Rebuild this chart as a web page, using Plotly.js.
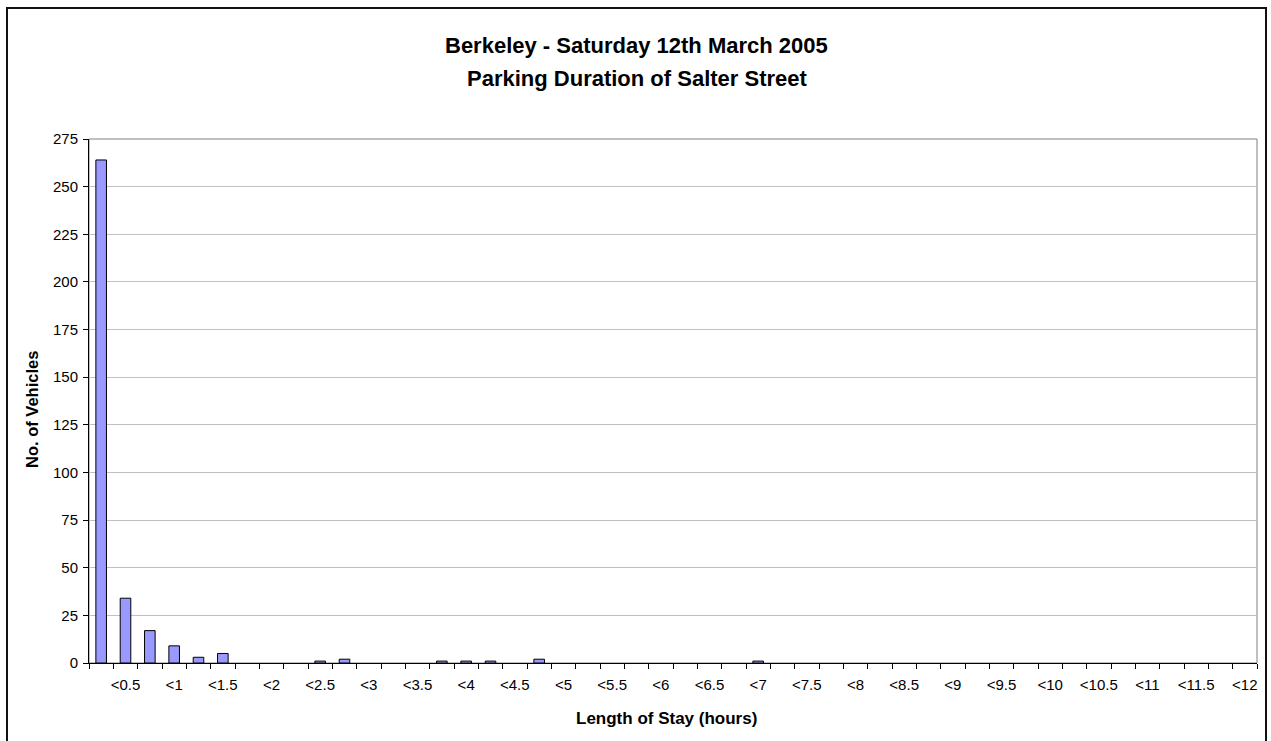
<!DOCTYPE html>
<html>
<head>
<meta charset="utf-8">
<script src="https://cdn.plot.ly/plotly-3.0.1.min.js"></script>
<style>
html,body{margin:0;padding:0;background:#fff;}
#chart{width:1271px;height:741px;}
</style>
</head>
<body>
<div id="chart"></div>
<script>
// Categories: length of stay in quarter-hour bins
const categories = ["<0.25","<0.5","<0.75","<1","<1.25","<1.5","<1.75","<2",
  "<2.25","<2.5","<2.75","<3","<3.25","<3.5","<3.75","<4",
  "<4.25","<4.5","<4.75","<5","<5.25","<5.5","<5.75","<6",
  "<6.25","<6.5","<6.75","<7","<7.25","<7.5","<7.75","<8",
  "<8.25","<8.5","<8.75","<9","<9.25","<9.5","<9.75","<10",
  "<10.25","<10.5","<10.75","<11","<11.25","<11.5","<11.75","<12"];
const vehicles = [264,34,17,9,3,5,0,0,
  0,1,2,0,0,0,1,1,
  1,0,2,0,0,0,0,0,
  0,0,0,1,0,0,0,0,
  0,0,0,0,0,0,0,0,
  0,0,0,0,0,0,0,0];
// Labels shown on the axis (every other category)
const tickLabels = ["<0.5","<1","<1.5","<2","<2.5","<3","<3.5","<4","<4.5","<5",
  "<5.5","<6","<6.5","<7","<7.5","<8","<8.5","<9","<9.5","<10","<10.5","<11","<11.5","<12"];
const yTicks = [0,25,50,75,100,125,150,175,200,225,250,275];

const titleLine1 = "Berkeley - Saturday 12th March 2005";
const titleLine2 = "Parking Duration of Salter Street";
const xTitle = "Length of Stay (hours)";
const yTitle = "No. of Vehicles";

const FONT = "Liberation Sans, Arial, sans-serif";
const L = 89, R = 14, T = 139, B = 78, W = 1271, H = 741;
const pw = W - L - R, ph = H - T - B;
const px = x => (x - L) / pw;
const py = y => (H - B - y) / ph;

const ticktext = categories.map(c => tickLabels.includes(c) ? c : "");

const trace = {
  type: "bar",
  x: categories,
  y: vehicles,
  marker: {color: "#9999ff",
           line: {color: "#000000", width: vehicles.map(v => v === 0 ? 0 : 1)}},
  hoverinfo: "x+y"
};

const layout = {
  width: W, height: H,
  margin: {l: L, r: R, t: T, b: B, pad: 0},
  paper_bgcolor: "#ffffff",
  plot_bgcolor: "#ffffff",
  showlegend: false,
  bargap: 0.565,
  font: {family: FONT, color: "#000000", size: 15},
  xaxis: {
    type: "category",
    categoryorder: "array",
    categoryarray: categories,
    range: [-0.5, categories.length - 0.5],
    tickmode: "array",
    tickvals: categories,
    ticktext: ticktext,
    tickson: "boundaries",
    ticks: "outside",
    ticklen: 5,
    tickcolor: "#000000",
    tickwidth: 1,
    tickangle: 0,
    ticklabelstandoff: 8,
    showgrid: false,
    showline: true,
    linecolor: "#000000",
    linewidth: 1,
    zeroline: false,
    tickfont: {family: FONT, size: 15, color: "#000000"},
    fixedrange: true
  },
  yaxis: {
    range: [0, 275],
    tickmode: "array",
    tickvals: yTicks,
    ticks: "outside",
    ticklen: 5,
    tickcolor: "#000000",
    ticklabelstandoff: 2,
    showgrid: true,
    gridcolor: "#c0c0c0",
    gridwidth: 1,
    showline: true,
    linecolor: "#000000",
    linewidth: 1,
    zeroline: false,
    tickfont: {family: FONT, size: 15, color: "#000000"},
    fixedrange: true
  },
  shapes: [
    {type: "rect", xref: "paper", yref: "paper", x0: 0, x1: 1, y0: 0, y1: 1,
     line: {color: "#808080", width: 1}, layer: "below"},
    {type: "rect", xref: "paper", yref: "paper",
     x0: px(7), x1: px(1266), y0: py(8), y1: py(770),
     line: {color: "#111111", width: 2}, layer: "above"}
  ],
  annotations: [
    {text: "<b>" + titleLine1 + "</b>", xref: "paper", yref: "paper",
     x: px(636), y: py(46), xanchor: "center", yanchor: "middle", showarrow: false,
     font: {family: FONT, size: 22, color: "#000000"}},
    {text: "<b>" + titleLine2 + "</b>", xref: "paper", yref: "paper",
     x: px(637), y: py(78), xanchor: "center", yanchor: "middle", showarrow: false,
     font: {family: FONT, size: 22, color: "#000000"}},
    {text: "<b>" + xTitle + "</b>", xref: "paper", yref: "paper",
     x: px(666), y: py(718), xanchor: "center", yanchor: "middle", showarrow: false,
     font: {family: FONT, size: 17, color: "#000000"}},
    {text: "<b>" + yTitle + "</b>", xref: "paper", yref: "paper",
     x: px(32), y: py(410), xanchor: "center", yanchor: "middle", showarrow: false,
     textangle: -90,
     font: {family: FONT, size: 16.5, color: "#000000"}}
  ]
};

Plotly.newPlot("chart", [trace], layout, {displayModeBar: false, staticPlot: true});
</script>
</body>
</html>
